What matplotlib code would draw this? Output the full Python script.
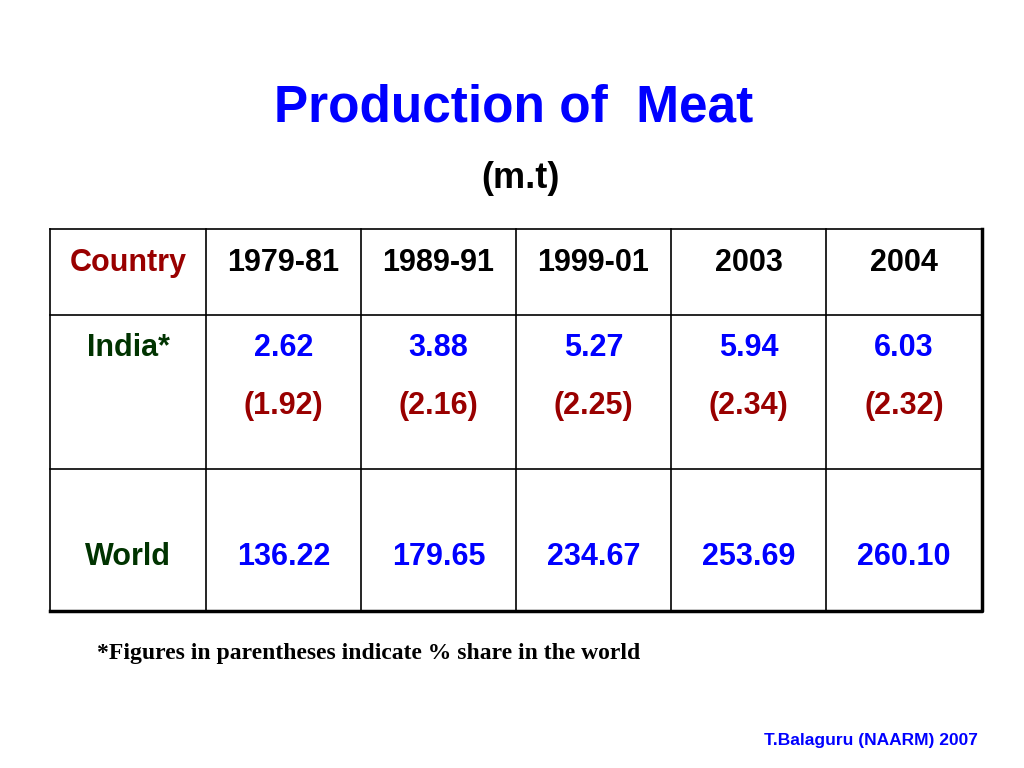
import matplotlib.pyplot as plt

periods = ["1979-81", "1989-91", "1999-01", "2003", "2004"]
india = ["2.62", "3.88", "5.27", "5.94", "6.03"]
india_share = ["(1.92)", "(2.16)", "(2.25)", "(2.34)", "(2.32)"]
world = ["136.22", "179.65", "234.67", "253.69", "260.10"]

narrow = ["Liberation Sans Narrow", "Liberation Sans", "DejaVu Sans"]
blue = "#0000ff"
red = "#990000"
green = "#003300"

fig = plt.figure(figsize=(10.24, 7.68), dpi=100)
ax = fig.add_axes([0, 0, 1, 1])
ax.set_xlim(0, 1024)
ax.set_ylim(768, 0)
ax.axis("off")

ax.text(514, 108, "Production of  Meat", ha="center", va="center", fontsize=37,
        fontweight="bold", color=blue, family=narrow)
ax.text(520, 178, "(m.t)", ha="center", va="center", fontsize=26,
        fontweight="bold", color="black", family=narrow)

# table grid
cols = [50, 206, 361, 516, 671, 826, 982]
rows = [229, 315, 469, 611]
for x in cols:
    ax.plot([x, x], [rows[0], rows[-1]], color="black", lw=1.2)
for y in rows:
    ax.plot([cols[0], cols[-1]], [y, y], color="black", lw=1.2)
ax.plot([cols[0], cols[-1], cols[-1]], [rows[-1], rows[-1], rows[0]], color="black", lw=2.5)

cell_font = dict(ha="center", va="center", fontsize=22, fontweight="bold", family=narrow)
ax.text(128, 263, "Country", color=red, **cell_font)
ax.text(128, 348, "India*", color=green, **cell_font)
ax.text(128, 557, "World", color=green, **cell_font)
for i, p in enumerate(periods):
    cx = (cols[i + 1] + cols[i + 2]) / 2
    ax.text(cx, 263, p, color="black", **cell_font)
    ax.text(cx, 348, india[i], color=blue, **cell_font)
    ax.text(cx, 406, india_share[i], color=red, **cell_font)
    ax.text(cx, 557, world[i], color=blue, **cell_font)

ax.text(97, 654, "*Figures in parentheses indicate % share in the world", ha="left",
        va="center", fontsize=17, fontweight="bold", family=["Liberation Serif", "DejaVu Serif"])
ax.text(978, 741, "T.Balaguru (NAARM) 2007", ha="right", va="center", fontsize=12.5,
        fontweight="bold", color=blue, family=["Liberation Sans", "DejaVu Sans"])

fig.savefig("out.png", dpi=100)
